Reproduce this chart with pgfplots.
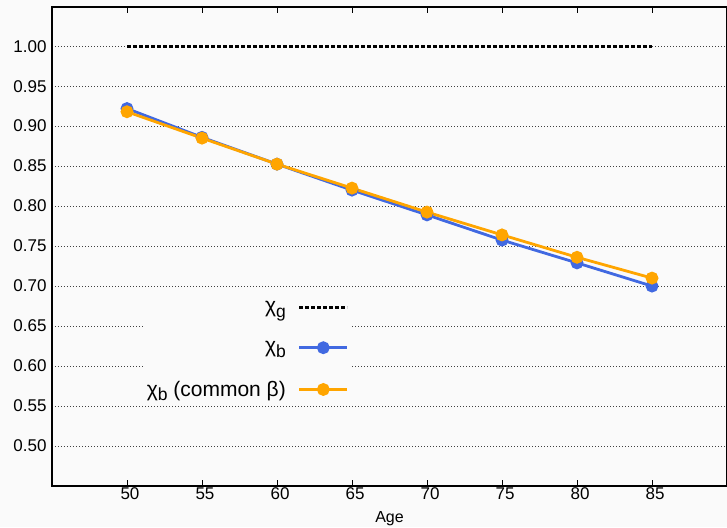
\documentclass[border=0pt]{standalone}
\usepackage{fontspec}
\setmainfont{Liberation Sans}
\usepackage{pgfplots}
\pgfplotsset{compat=1.18}
\definecolor{bgc}{RGB}{250,250,250}
\definecolor{myblue}{RGB}{65,105,225}
\definecolor{myorange}{RGB}{255,165,0}
\newcommand{\sub}[1]{\raisebox{-0.4ex}{\fontsize{17.5}{18}\selectfont #1}}
\begin{document}
\begin{tikzpicture}
\fill[bgc] (-52pt,-41pt) rectangle (675pt,486pt);
\begin{axis}[
  at={(0pt,0pt)}, anchor=origin,
  scale only axis, width=675pt, height=479pt,
  xmin=45, xmax=90, ymin=0.45, ymax=1.049,
  axis line style={line width=1.3pt,-},
  xtick={50,55,...,85}, ytick={0.50,0.55,...,1.001},
  tick align=inside, major tick length=6pt,
  x tick style={line width=1pt,black},
  y tick style={draw=none},
  ymajorgrids, major grid style={black!75, line width=0.9pt, dash pattern=on 1pt off 2pt},
  yticklabel style={xshift=-2pt, /pgf/number format/.cd, fixed, fixed zerofill, precision=2},
  /pgf/number format/assume math mode=true,
  tick label style={font=\fontsize{17}{18}\selectfont},
  xticklabel style={yshift=2pt, xshift=3pt},
  xlabel={Age}, xlabel style={font=\fontsize{16}{17}\selectfont, yshift=-5pt},
  legend cell align=right, legend plot pos=right,
  legend style={at={(rel axis cs:0.443,0.394)}, anchor=north east, draw=none, fill=bgc,
    font=\fontsize{21}{23}\selectfont, row sep=23pt, inner sep=2pt,
    /tikz/every odd column/.append style={column sep=10pt}},
  legend image code/.code={\draw[mark repeat=2,mark phase=2,#1] plot coordinates {(0pt,0pt)(24pt,0pt)(48pt,0pt)};},
  clip=false,
]
\addplot[black, line width=3pt, dash pattern=on 4pt off 2pt] coordinates {(50,1.00)(85,1.00)};
\addlegendentry{χ\sub{g}}
\addplot[myblue, line width=2.8pt, mark=*, mark size=5pt, mark options={solid}] coordinates {
(50,0.922)(55,0.886)(60,0.8525)(65,0.820)(70,0.789)(75,0.7575)(80,0.729)(85,0.700)};
\addlegendentry{χ\sub{b}}
\addplot[myorange, line width=2.8pt, mark=*, mark size=5pt, mark options={solid}] coordinates {
(50,0.918)(55,0.885)(60,0.8525)(65,0.8225)(70,0.7925)(75,0.764)(80,0.736)(85,0.710)};
\addlegendentry{χ\sub{b} (common β)}
\end{axis}
\pgfresetboundingbox
\path (-52pt,-41pt) rectangle (675pt,486pt);
\end{tikzpicture}
\end{document}
